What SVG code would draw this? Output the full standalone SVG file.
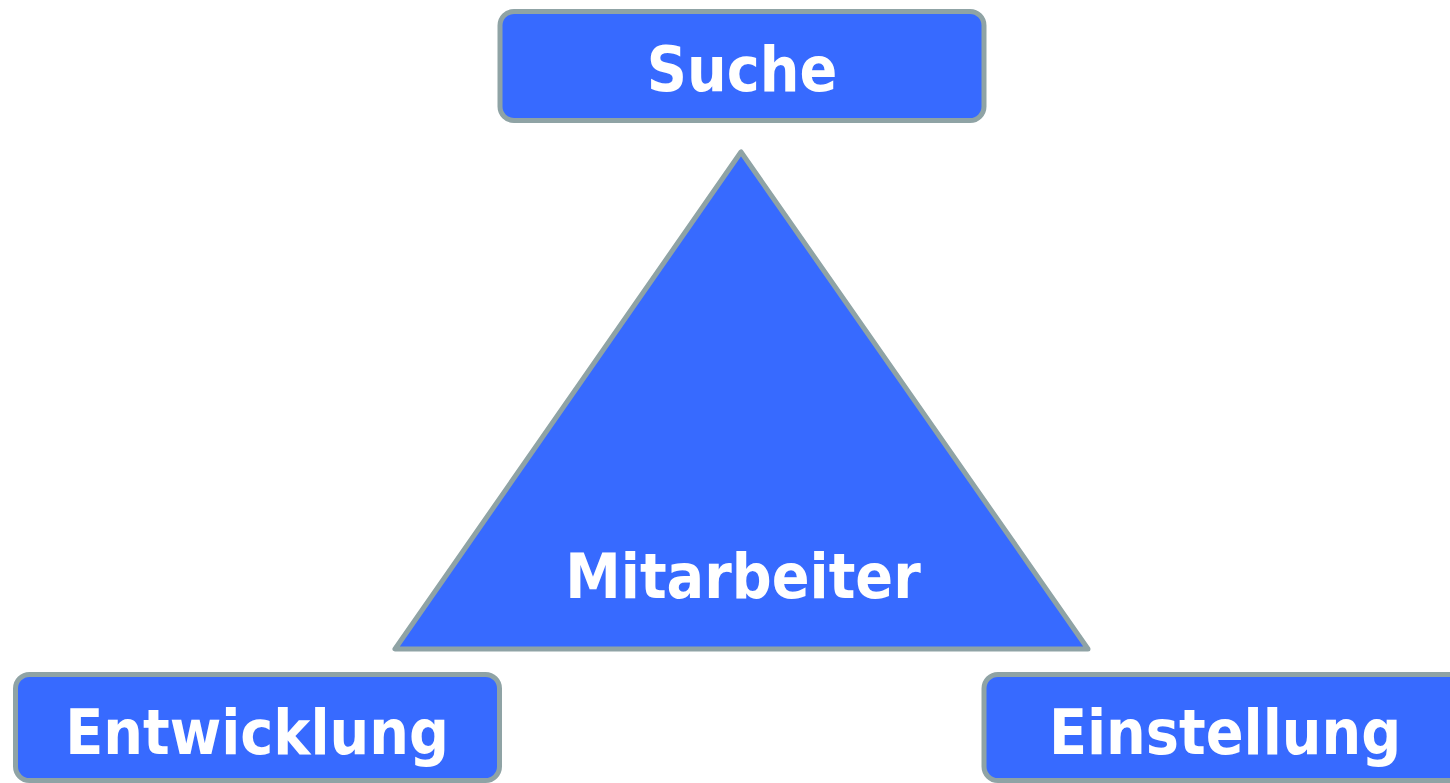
<svg xmlns="http://www.w3.org/2000/svg" width="1450" height="783" viewBox="0 0 1450 783">
<style>
.box{fill:#376AFF;stroke:#8FA3A5;stroke-width:5}
.tri{fill:#376AFF;stroke:#8FA3A5;stroke-width:5;stroke-linejoin:round}
.lbl{font-family:"DejaVu Sans Condensed","DejaVu Sans",sans-serif;font-weight:bold;font-size:62px;fill:#FFFFFF;text-anchor:middle}
</style>
<rect width="1450" height="783" fill="#FFFFFF"/>
<g id="connectors"></g>
<g id="mitarbeiter">
<polygon class="tri" points="741,152 395,649 1088,649"/>
<text class="lbl" x="743" y="598">Mitarbeiter</text>
</g>
<g id="suche">
<rect class="box" x="500" y="11.5" width="484" height="109" rx="14"/>
<text class="lbl" x="742" y="91">Suche</text>
</g>
<g id="entwicklung">
<rect class="box" x="15.5" y="674.5" width="484" height="106" rx="14"/>
<text class="lbl" x="257" y="754">Entwicklung</text>
</g>
<g id="einstellung">
<rect class="box" x="984" y="674.5" width="484" height="106" rx="14"/>
<text class="lbl" x="1225" y="754">Einstellung</text>
</g>
</svg>
